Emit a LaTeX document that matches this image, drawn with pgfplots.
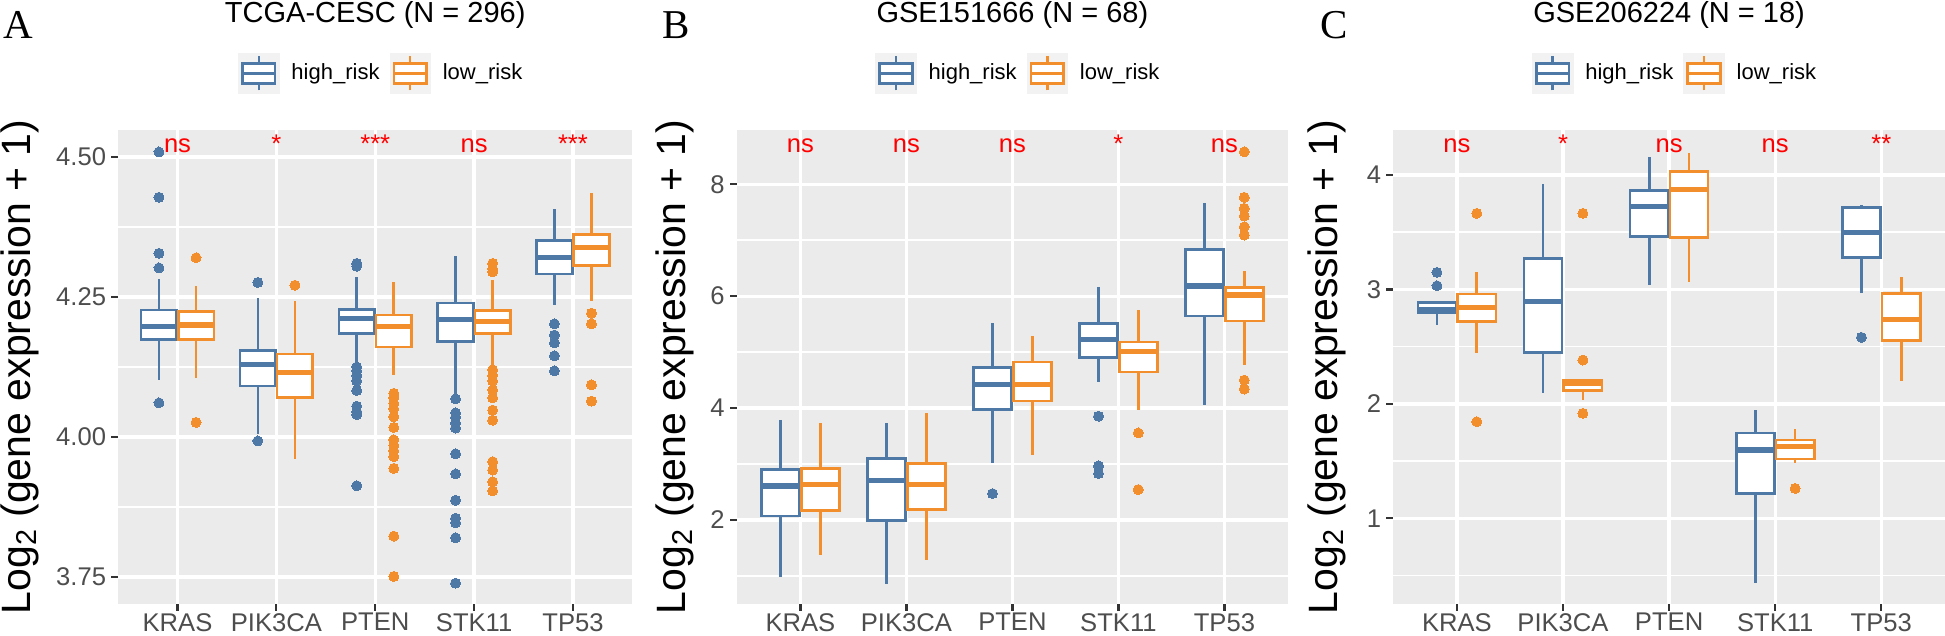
\documentclass[border=0pt]{standalone}
\usepackage{pgfplots}
\pgfplotsset{compat=1.18}
\usepgfplotslibrary{statistics}
\usepackage{fontspec}
\setmainfont{Liberation Sans}
\newfontfamily\letterfont{Liberation Serif}
\definecolor{hiblue}{HTML}{4E79A7}
\definecolor{loorange}{HTML}{F28E2B}
\definecolor{ggpanel}{HTML}{EBEBEB}
\definecolor{ggkey}{HTML}{F2F2F2}
\definecolor{gtick}{HTML}{333333}
\definecolor{glabel}{HTML}{4D4D4D}
\definecolor{sigred}{HTML}{FF0000}
\pgfplotsset{
  hib/.style={draw=hiblue, line width=1.3pt, mark=*, mark size=2.5pt,
    mark options={fill=hiblue, draw=hiblue, line width=0pt, solid},
    boxplot/every box/.style={fill=white},
    boxplot/every median/.style={line width=2.6pt}},
  lob/.style={draw=loorange, line width=1.3pt, mark=*, mark size=2.5pt,
    mark options={fill=loorange, draw=loorange, line width=0pt, solid},
    boxplot/every box/.style={fill=white},
    boxplot/every median/.style={line width=2.6pt}},
  ggaxis/.style={
    scale only axis, height=237pt,
    anchor=south west,
    axis background/.style={fill=ggpanel},
    axis line style={draw=none},
    tick align=outside,
    xtick pos=bottom, ytick pos=left,
    major tick length=3.4pt, minor tick length=0pt,
    every tick/.style={color=gtick, line width=1.1pt},
    xmajorgrids, ymajorgrids, yminorgrids,
    major grid style={white, line width=1.65pt},
    minor grid style={white, line width=0.85pt},
    xmin=-0.6, xmax=4.6,
    xtick={0,1,2,3,4},
    xticklabels={KRAS,PIK3CA,PTEN,STK11,TP53},
    /pgf/number format/assume math mode=true,
    tick label style={font=\fontsize{12.8}{15}\selectfont, text=glabel},
    yticklabel style={inner sep=2.5pt},
    xticklabel style={inner sep=0pt, yshift=-1pt},
    boxplot/draw direction=y,
    boxplot/box extend=0.36,
    boxplot/whisker extend=0,
    every axis title/.style={at={(0.5,1)}, anchor=base, yshift=53.5pt, font=\fontsize{14.5}{17}\selectfont},
    ylabel={Log\textsubscript{2} (gene expression + 1)},
    ylabel style={anchor=south, inner sep=0pt, font=\fontsize{20.5}{24}\selectfont},
    every axis legend/.style={at={(0.5,1)}, anchor=center, yshift=28.35pt, xshift=2.5pt,
      draw=none, fill=none, inner sep=0pt, outer sep=0pt,
      cells={anchor=center}, nodes={inner sep=0pt, text depth=0.15em},
      legend columns=2, font=\fontsize{11}{13}\selectfont,
      /tikz/every odd column/.append style={column sep=6pt},
      /tikz/every even column/.append style={column sep=5pt}},
  },
  hikey/.style={legend image code/.code={
    \fill[ggkey] (0pt,-10pt) rectangle (20.25pt,10pt);
    \draw[hiblue, line width=1.3pt] (10.125pt,-8.5pt) -- (10.125pt,8.5pt);
    \draw[hiblue, line width=1.3pt, fill=white] (2pt,-5pt) rectangle (18.25pt,5pt);
    \draw[hiblue, line width=1.3pt] (2pt,0pt) -- (18.25pt,0pt);}},
  lokey/.style={legend image code/.code={
    \fill[ggkey] (0pt,-10pt) rectangle (20.25pt,10pt);
    \draw[loorange, line width=1.3pt] (10.125pt,-8.5pt) -- (10.125pt,8.5pt);
    \draw[loorange, line width=1.3pt, fill=white] (2pt,-5pt) rectangle (18.25pt,5pt);
    \draw[loorange, line width=1.3pt] (2pt,0pt) -- (18.25pt,0pt);}},
}
\begin{document}
\begin{tikzpicture}
\useasboundingbox (0,0) rectangle (972.5pt,318pt);
% ---------------- Panel A ----------------
\begin{axis}[ggaxis, at={(59.1pt,16pt)}, width=257.05pt,
  ymin=3.7018, ymax=4.5482,
  ytick={3.75,4,4.25,4.5}, yticklabels={3.75,4.00,4.25,4.50},
  minor ytick={3.875,4.125,4.375},
  title={TCGA-CESC (N = 296)},
  ylabel style={at={(axis description cs:-0.15406,0.5)}}]
\addlegendimage{hikey}
\addlegendimage{lokey}
\legend{high\_risk, low\_risk}
\addplot[hib, boxplot prepared={draw position=-0.1875, lower whisker=4.102, lower quartile=4.174, median=4.197, upper quartile=4.227, upper whisker=4.282}]
  table[row sep=\\, y index=0] {y\\ 4.509\\ 4.428\\ 4.328\\ 4.302\\ 4.061\\};
\addplot[lob, boxplot prepared={draw position=0.1875, lower whisker=4.105, lower quartile=4.174, median=4.200, upper quartile=4.224, upper whisker=4.270}]
  table[row sep=\\, y index=0] {y\\ 4.320\\ 4.026\\};
\addplot[hib, boxplot prepared={draw position=0.8125, lower whisker=4.005, lower quartile=4.091, median=4.129, upper quartile=4.154, upper whisker=4.248}]
  table[row sep=\\, y index=0] {y\\ 4.276\\ 3.993\\};
\addplot[lob, boxplot prepared={draw position=1.1875, lower whisker=3.960, lower quartile=4.070, median=4.115, upper quartile=4.148, upper whisker=4.243}]
  table[row sep=\\, y index=0] {y\\ 4.271\\};
\addplot[hib, boxplot prepared={draw position=1.8125, lower whisker=4.130, lower quartile=4.185, median=4.212, upper quartile=4.228, upper whisker=4.285}]
  table[row sep=\\, y index=0] {y\\ 4.305\\ 4.310\\ 4.125\\ 4.118\\ 4.110\\ 4.100\\ 4.083\\ 4.055\\ 4.045\\ 4.040\\ 3.913\\};
\addplot[lob, boxplot prepared={draw position=2.1875, lower whisker=4.111, lower quartile=4.161, median=4.198, upper quartile=4.218, upper whisker=4.276}]
  table[row sep=\\, y index=0] {y\\ 4.078\\ 4.070\\ 4.060\\ 4.050\\ 4.036\\ 4.017\\ 3.995\\ 3.985\\ 3.975\\ 3.965\\ 3.944\\ 3.823\\ 3.751\\};
\addplot[hib, boxplot prepared={draw position=2.8125, lower whisker=4.075, lower quartile=4.170, median=4.210, upper quartile=4.239, upper whisker=4.323}]
  table[row sep=\\, y index=0] {y\\ 4.068\\ 4.043\\ 4.035\\ 4.025\\ 4.016\\ 3.970\\ 3.934\\ 3.887\\ 3.855\\ 3.847\\ 3.820\\ 3.739\\};
\addplot[lob, boxplot prepared={draw position=3.1875, lower whisker=4.129, lower quartile=4.185, median=4.206, upper quartile=4.226, upper whisker=4.280}]
  table[row sep=\\, y index=0] {y\\ 4.310\\ 4.300\\ 4.295\\ 4.120\\ 4.110\\ 4.100\\ 4.084\\ 4.070\\ 4.048\\ 4.030\\ 3.956\\ 3.941\\ 3.920\\ 3.904\\};
\addplot[hib, boxplot prepared={draw position=3.8125, lower whisker=4.236, lower quartile=4.291, median=4.320, upper quartile=4.351, upper whisker=4.407}]
  table[row sep=\\, y index=0] {y\\ 4.202\\ 4.182\\ 4.168\\ 4.145\\ 4.118\\};
\addplot[lob, boxplot prepared={draw position=4.1875, lower whisker=4.242, lower quartile=4.306, median=4.339, upper quartile=4.362, upper whisker=4.435}]
  table[row sep=\\, y index=0] {y\\ 4.221\\ 4.202\\ 4.093\\ 4.064\\};
\node[anchor=base, inner sep=0pt, text=sigred, font=\fontsize{12.8}{15}\selectfont] at (axis cs:0,4.5084) {ns};
\node[anchor=base, inner sep=0pt, text=sigred, font=\fontsize{12.8}{15}\selectfont] at (axis cs:1,4.5084) {*};
\node[anchor=base, inner sep=0pt, text=sigred, font=\fontsize{12.8}{15}\selectfont] at (axis cs:2,4.5084) {***};
\node[anchor=base, inner sep=0pt, text=sigred, font=\fontsize{12.8}{15}\selectfont] at (axis cs:3,4.5084) {ns};
\node[anchor=base, inner sep=0pt, text=sigred, font=\fontsize{12.8}{15}\selectfont] at (axis cs:4,4.5084) {***};
\end{axis}
% ---------------- Panel B ----------------
\begin{axis}[ggaxis, at={(368.4pt,16pt)}, width=275.6pt,
  ymin=0.4987, ymax=8.9705,
  ytick={2,4,6,8}, yticklabels={2,4,6,8},
  minor ytick={1,3,5,7},
  title={GSE151666 (N = 68)},
  ylabel style={at={(axis description cs:-0.0762,0.5)}}]
\addlegendimage{hikey}
\addlegendimage{lokey}
\legend{high\_risk, low\_risk}
\addplot[hib, boxplot prepared={draw position=-0.1875, lower whisker=0.98, lower quartile=2.072, median=2.608, upper quartile=2.907, upper whisker=3.784}] coordinates {};
\addplot[lob, boxplot prepared={draw position=0.1875, lower whisker=1.37, lower quartile=2.174, median=2.639, upper quartile=2.920, upper whisker=3.742}] coordinates {};
\addplot[hib, boxplot prepared={draw position=0.8125, lower whisker=0.86, lower quartile=1.995, median=2.71, upper quartile=3.098, upper whisker=3.735}] coordinates {};
\addplot[lob, boxplot prepared={draw position=1.1875, lower whisker=1.29, lower quartile=2.186, median=2.633, upper quartile=3.009, upper whisker=3.921}] coordinates {};
\addplot[hib, boxplot prepared={draw position=1.8125, lower whisker=3.027, lower quartile=3.975, median=4.427, upper quartile=4.726, upper whisker=5.524}]
  table[row sep=\\, y index=0] {y\\ 2.472\\};
\addplot[lob, boxplot prepared={draw position=2.1875, lower whisker=3.17, lower quartile=4.129, median=4.427, upper quartile=4.826, upper whisker=5.286}] coordinates {};
\addplot[hib, boxplot prepared={draw position=2.8125, lower whisker=4.469, lower quartile=4.905, median=5.227, upper quartile=5.513, upper whisker=6.157}]
  table[row sep=\\, y index=0] {y\\ 3.855\\ 2.966\\ 2.83\\};
\addplot[lob, boxplot prepared={draw position=3.1875, lower whisker=3.962, lower quartile=4.648, median=5.018, upper quartile=5.184, upper whisker=5.75}]
  table[row sep=\\, y index=0] {y\\ 3.556\\ 2.544\\};
\addplot[hib, boxplot prepared={draw position=3.8125, lower whisker=4.064, lower quartile=5.644, median=6.181, upper quartile=6.837, upper whisker=7.671}] coordinates {};
\addplot[lob, boxplot prepared={draw position=4.1875, lower whisker=4.767, lower quartile=5.555, median=6.02, upper quartile=6.157, upper whisker=6.454}]
  table[row sep=\\, y index=0] {y\\ 8.58\\ 7.767\\ 7.57\\ 7.433\\ 7.24\\ 7.093\\ 4.50\\ 4.34\\};
\node[anchor=base, inner sep=0pt, text=sigred, font=\fontsize{12.8}{15}\selectfont] at (axis cs:0,8.572) {ns};
\node[anchor=base, inner sep=0pt, text=sigred, font=\fontsize{12.8}{15}\selectfont] at (axis cs:1,8.572) {ns};
\node[anchor=base, inner sep=0pt, text=sigred, font=\fontsize{12.8}{15}\selectfont] at (axis cs:2,8.572) {ns};
\node[anchor=base, inner sep=0pt, text=sigred, font=\fontsize{12.8}{15}\selectfont] at (axis cs:3,8.572) {*};
\node[anchor=base, inner sep=0pt, text=sigred, font=\fontsize{12.8}{15}\selectfont] at (axis cs:4,8.572) {ns};
\end{axis}
% ---------------- Panel C ----------------
\begin{axis}[ggaxis, at={(696.6pt,16pt)}, width=275.9pt,
  ymin=0.2511, ymax=4.3933,
  ytick={1,2,3,4}, yticklabels={1,2,3,4},
  minor ytick={0.5,1.5,2.5,3.5},
  title={GSE206224 (N = 18)},
  ylabel style={at={(axis description cs:-0.0850,0.5)}}]
\addlegendimage{hikey}
\addlegendimage{lokey}
\legend{high\_risk, low\_risk}
\addplot[hib, boxplot prepared={draw position=-0.1875, lower whisker=2.689, lower quartile=2.795, median=2.826, upper quartile=2.884, upper whisker=2.884}]
  table[row sep=\\, y index=0] {y\\ 3.149\\ 3.032\\};
\addplot[lob, boxplot prepared={draw position=0.1875, lower whisker=2.447, lower quartile=2.718, median=2.842, upper quartile=2.960, upper whisker=3.155}]
  table[row sep=\\, y index=0] {y\\ 3.665\\ 1.844\\};
\addplot[hib, boxplot prepared={draw position=0.8125, lower whisker=2.092, lower quartile=2.450, median=2.893, upper quartile=3.272, upper whisker=3.918}] coordinates {};
\addplot[lob, boxplot prepared={draw position=1.1875, lower whisker=2.033, lower quartile=2.115, median=2.180, upper quartile=2.202, upper whisker=2.210}]
  table[row sep=\\, y index=0] {y\\ 3.665\\ 2.383\\ 1.917\\};
\addplot[hib, boxplot prepared={draw position=1.8125, lower whisker=3.038, lower quartile=3.461, median=3.723, upper quartile=3.863, upper whisker=4.155}] coordinates {};
\addplot[lob, boxplot prepared={draw position=2.1875, lower whisker=3.067, lower quartile=3.455, median=3.875, upper quartile=4.029, upper whisker=4.195}] coordinates {};
\addplot[hib, boxplot prepared={draw position=2.8125, lower whisker=0.431, lower quartile=1.218, median=1.596, upper quartile=1.747, upper whisker=1.946}] coordinates {};
\addplot[lob, boxplot prepared={draw position=3.1875, lower whisker=1.485, lower quartile=1.517, median=1.625, upper quartile=1.684, upper whisker=1.777}]
  table[row sep=\\, y index=0] {y\\ 1.261\\};
\addplot[hib, boxplot prepared={draw position=3.8125, lower whisker=2.971, lower quartile=3.281, median=3.496, upper quartile=3.718, upper whisker=3.738}]
  table[row sep=\\, y index=0] {y\\ 2.581\\};
\addplot[lob, boxplot prepared={draw position=4.1875, lower whisker=2.202, lower quartile=2.552, median=2.739, upper quartile=2.966, upper whisker=3.106}] coordinates {};
\node[anchor=base, inner sep=0pt, text=sigred, font=\fontsize{12.8}{15}\selectfont] at (axis cs:0,4.1984) {ns};
\node[anchor=base, inner sep=0pt, text=sigred, font=\fontsize{12.8}{15}\selectfont] at (axis cs:1,4.1984) {*};
\node[anchor=base, inner sep=0pt, text=sigred, font=\fontsize{12.8}{15}\selectfont] at (axis cs:2,4.1984) {ns};
\node[anchor=base, inner sep=0pt, text=sigred, font=\fontsize{12.8}{15}\selectfont] at (axis cs:3,4.1984) {ns};
\node[anchor=base, inner sep=0pt, text=sigred, font=\fontsize{12.8}{15}\selectfont] at (axis cs:4,4.1984) {**};
\end{axis}
% panel letters
\node[anchor=base west, inner sep=0pt, font=\letterfont\fontsize{20.5}{24}\selectfont] at (1.5pt,298.5pt) {A};
\node[anchor=base west, inner sep=0pt, font=\letterfont\fontsize{20.5}{24}\selectfont] at (331pt,298.5pt) {B};
\node[anchor=base west, inner sep=0pt, font=\letterfont\fontsize{20.5}{24}\selectfont] at (660pt,298.5pt) {C};
\end{tikzpicture}
\end{document}
